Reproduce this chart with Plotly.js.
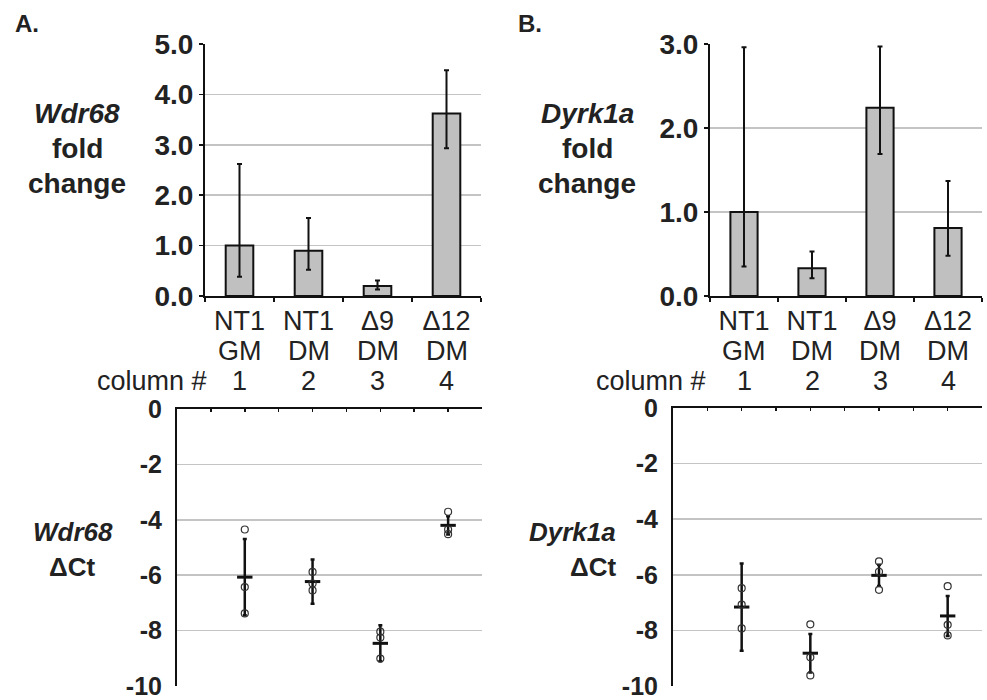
<!DOCTYPE html>
<html>
<head>
<meta charset="utf-8">
<script src="https://cdn.plot.ly/plotly-3.0.1.min.js"></script>
<style>html,body{margin:0;padding:0;background:#fff;}#chart{width:987px;height:700px;}</style>
</head>
<body>
<div id="chart"></div>
<script>
// ---- data ----
const categories = ['NT1 GM', 'NT1 DM', 'Δ9 DM', 'Δ12 DM'];
const labelLine1 = ['NT1', 'NT1', 'Δ9', 'Δ12'];
const labelLine2 = ['GM', 'DM', 'DM', 'DM'];
const columnNums = [1, 2, 3, 4];
const ctTickVals = [0, -2, -4, -6, -8, -10];
const ctTickText = ['0', '-2', '-4', '-6', '-8', '-10'];

// fold change (bars) with asymmetric error limits
const wdr68Fold   = [1.00, 0.90, 0.20, 3.62];
const wdr68FoldHi = [2.62, 1.55, 0.31, 4.48];
const wdr68FoldLo = [0.38, 0.52, 0.13, 2.93];

const dyrkFold   = [1.00, 0.33, 2.24, 0.81];
const dyrkFoldHi = [2.96, 0.53, 2.97, 1.37];
const dyrkFoldLo = [0.35, 0.21, 1.69, 0.48];

// delta Ct replicates, means and SD
const wdr68Rep1 = [-4.35, -5.88, -8.04, -3.71];
const wdr68Rep2 = [-6.43, -6.30, -8.25, -4.35];
const wdr68Rep3 = [-7.38, -6.55, -9.01, -4.52];
const wdr68Mean = [-6.07, -6.23, -8.46, -4.20];
const wdr68SD   = [1.38, 0.80, 0.65, 0.33];

const dyrkRep1 = [-6.48, -7.78, -5.52, -6.41];
const dyrkRep2 = [-7.07, -8.97, -5.89, -7.80];
const dyrkRep3 = [-7.93, -9.62, -6.54, -8.18];
const dyrkMean = [-7.16, -8.82, -6.02, -7.48];
const dyrkSD   = [1.57, 0.69, 0.38, 0.72];

// ---- helpers ----
const FONT = 'Liberation Sans, Arial, Helvetica, sans-serif';
const W = 987, H = 700;
const px = v => v / W;
const py = v => (H - v) / H;

function barTrace(vals, hi, lo, xa, ya) {
  return {
    type: 'bar', x: categories, y: vals, xaxis: xa, yaxis: ya, width: 0.4,
    marker: {color: '#c0c0c0', line: {color: '#111', width: 2}},
    error_y: {type: 'data', symmetric: false,
      array: vals.map((v, i) => hi[i] - v),
      arrayminus: vals.map((v, i) => v - lo[i]),
      color: '#111', thickness: 2, width: 2.5},
    showlegend: false, hoverinfo: 'y'
  };
}
function meanTrace(mean, sd, xa, ya) {
  return {
    type: 'scatter', mode: 'markers', x: columnNums, y: mean, xaxis: xa, yaxis: ya,
    marker: {symbol: 'line-ew', size: 11, color: '#111', line: {color: '#111', width: 3}},
    error_y: {type: 'data', array: sd, color: '#111', thickness: 2.5, width: 2},
    showlegend: false
  };
}
function repTrace(rep, xa, ya) {
  return {
    type: 'scatter', mode: 'markers', x: columnNums, y: rep, xaxis: xa, yaxis: ya,
    marker: {symbol: 'circle-open', size: 7, color: '#333', line: {color: '#333', width: 1.2}},
    showlegend: false
  };
}

const traces = [
  barTrace(wdr68Fold, wdr68FoldHi, wdr68FoldLo, 'x', 'y'),
  barTrace(dyrkFold, dyrkFoldHi, dyrkFoldLo, 'x2', 'y2'),
  meanTrace(wdr68Mean, wdr68SD, 'x3', 'y3'),
  repTrace(wdr68Rep1, 'x3', 'y3'), repTrace(wdr68Rep2, 'x3', 'y3'), repTrace(wdr68Rep3, 'x3', 'y3'),
  meanTrace(dyrkMean, dyrkSD, 'x4', 'y4'),
  repTrace(dyrkRep1, 'x4', 'y4'), repTrace(dyrkRep2, 'x4', 'y4'), repTrace(dyrkRep3, 'x4', 'y4')
];

function topX(domain, anchor) {
  return {domain: domain, anchor: anchor, type: 'category', categoryorder: 'array', categoryarray: categories,
    tickmode: 'array', tickvals: categories, ticktext: labelLine1,
    tickfont: {family: FONT, size: 27, color: '#222'},
    showline: true, linecolor: '#111', linewidth: 2, ticks: 'outside', tickson: 'boundaries',
    ticklen: 4, tickwidth: 1.5, tickcolor: '#111', showgrid: false, zeroline: false,
    range: [-0.5, 3.5], fixedrange: true};
}
function topY(domain, anchor, max, dt) {
  return {domain: domain, anchor: anchor, range: [0, max], dtick: dt, tick0: 0, tickformat: '.1f',
    tickfont: {family: FONT, size: 28, color: '#222', weight: 'bold'},
    showline: true, linecolor: '#111', linewidth: 2, ticks: 'outside', ticklen: 4, tickwidth: 1.5, tickcolor: '#111',
    showgrid: true, gridcolor: '#c4c4c4', gridwidth: 1.5, zeroline: false, fixedrange: true,
    ticklabeloverflow: 'allow'};
}
function botX(domain, anchor) {
  return {domain: domain, anchor: anchor, side: 'top', range: [0, 4.5], tick0: 0, dtick: 0.5,
    showticklabels: false, showline: true, linecolor: '#111', linewidth: 2.5,
    ticks: 'inside', ticklen: 3, tickwidth: 1.5, tickcolor: '#111', showgrid: false, zeroline: false, fixedrange: true};
}
function botY(domain, anchor) {
  return {domain: domain, anchor: anchor, range: [-10, 0], tickmode: 'array', tickvals: ctTickVals, ticktext: ctTickText,
    tickfont: {family: FONT, size: 25, color: '#222', weight: 'bold'},
    showline: true, linecolor: '#111', linewidth: 2, ticks: '', ticklabelstandoff: 8,
    ticklabeloverflow: 'allow',
    showgrid: true, gridcolor: '#c4c4c4', gridwidth: 1.5, zeroline: false, fixedrange: true};
}

const topDomY = [py(296), py(44)];
const layout = {
  width: W, height: H, margin: {l: 0, r: 0, t: 0, b: 0},
  paper_bgcolor: '#fff', plot_bgcolor: '#fff', showlegend: false,
  font: {family: FONT, color: '#222'},
  xaxis: topX([px(205), px(481)], 'y'),
  yaxis: topY(topDomY, 'x', 5, 1),
  xaxis2: topX([px(710), px(982)], 'y2'),
  yaxis2: topY(topDomY, 'x2', 3, 1),
  xaxis3: botX([px(177), px(482)], 'y3'),
  yaxis3: botY([py(686), py(409)], 'x3'),
  xaxis4: botX([px(673), px(982)], 'y4'),
  yaxis4: botY([py(686), py(408)], 'x4'),
  annotations: []
};

const ann = layout.annotations;
function text(t, x, y, size, bold, xanchor, italic) {
  ann.push({text: italic ? '<i>' + t + '</i>' : t, x: x, y: y, xref: 'paper', yref: 'paper',
    xanchor: xanchor || 'center', yanchor: 'middle', showarrow: false,
    font: {family: FONT, size: size, color: '#222', weight: bold ? 'bold' : 'normal'}});
}
// panel letters
text('A.', px(13), py(24), 24, true, 'left');
text('B.', px(516), py(24), 24, true, 'left');
// top y titles
text('Wdr68', px(77), py(113), 28, true, 'center', true);
text('fold', px(77), py(148), 28, true);
text('change', px(77), py(183), 28, true);
text('Dyrk1a', px(587), py(113), 28, true, 'center', true);
text('fold', px(587), py(148), 28, true);
text('change', px(587), py(183), 28, true);
// bottom y titles
text('Wdr68', px(73), py(532), 26, true, 'center', true);
text('ΔCt', px(72), py(567), 26, true);
text('Dyrk1a', px(572), py(532), 26, true, 'center', true);
text('ΔCt', px(593), py(567), 26, true);
// second label line and column numbers
['x', 'x2'].forEach(xr => {
  categories.forEach((c, i) => {
    ann.push({text: labelLine2[i], x: c, xref: xr, y: py(351), yref: 'paper', yanchor: 'middle',
      showarrow: false, font: {family: FONT, size: 27, color: '#222'}});
    ann.push({text: String(columnNums[i]), x: c, xref: xr, y: py(381), yref: 'paper', yanchor: 'middle',
      showarrow: false, font: {family: FONT, size: 27, color: '#222'}});
  });
});
text('column #', px(209), py(381), 27, false, 'right');
text('column #', px(708), py(381), 27, false, 'right');

Plotly.newPlot('chart', traces, layout, {staticPlot: true, displayModeBar: false});
</script>
</body>
</html>
